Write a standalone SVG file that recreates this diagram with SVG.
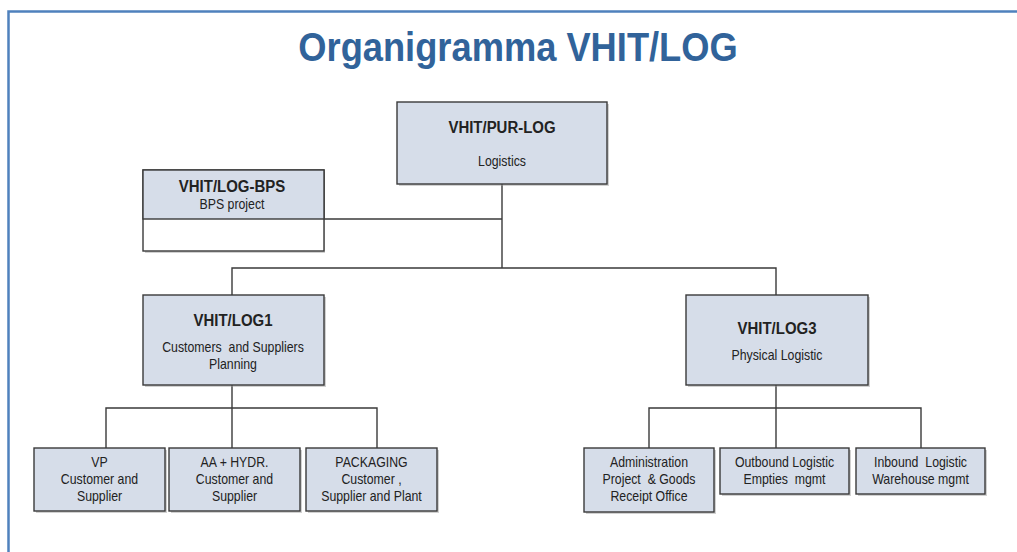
<svg xmlns="http://www.w3.org/2000/svg" width="1017" height="552" viewBox="0 0 1017 552">
  <style>
    .box { fill: #D6DDE9; stroke: #3A3A3A; stroke-width: 1.4; }
    .blank { fill: #FFFFFF; stroke: #3A3A3A; stroke-width: 1.4; }
    .shadow { fill: #9A9A9A; opacity: 0.45; }
    .wire { fill: none; stroke: #3A3A3A; stroke-width: 1.4; }
    text { font-family: "Liberation Sans", Arial, sans-serif; fill: #222222; text-anchor: middle; white-space: pre; }
    .head { font-size: 17px; font-weight: bold; }
    .sub { font-size: 14px; }
    .title { font-size: 41px; font-weight: bold; fill: #31639A; }
  </style>

  <rect x="0" y="0" width="1017" height="552" fill="#FFFFFF"/>

  <!-- page frame -->
  <path d="M8.5 552 V11.5 H1017" fill="none" stroke="#4F81BD" stroke-width="2.5"/>

  <!-- title -->
  <text class="title" transform="matrix(0.885 0 0 1 518 61)">Organigramma VHIT/LOG</text>

  <!-- connectors -->
  <g id="connectors">
    <path class="wire" d="M502 184 V268"/>
    <path class="wire" d="M324 219 H502"/>
    <path class="wire" d="M232 295 V268 H776 V295"/>
    <path class="wire" d="M232 385 V408"/>
    <path class="wire" d="M106 448 V408 H377 V448"/>
    <path class="wire" d="M232 408 V448"/>
    <path class="wire" d="M776 385 V408"/>
    <path class="wire" d="M649 448 V408 H921 V448"/>
    <path class="wire" d="M776 408 V448"/>
  </g>

  <!-- top node -->
  <g id="node-pur-log">
    <rect class="shadow" x="399" y="104" width="210" height="82"/>
    <rect class="box" x="397" y="102" width="210" height="82"/>
    <text class="head" transform="matrix(0.88 0 0 1 502 133)">VHIT/PUR-LOG</text>
    <text class="sub" transform="matrix(0.88 0 0 1 502 166)">Logistics</text>
  </g>

  <!-- staff node -->
  <g id="node-log-bps">
    <rect class="shadow" x="145" y="172" width="180" height="81"/>
    <rect class="blank" x="143" y="170" width="181" height="81"/>
    <rect class="box" x="143" y="170" width="181" height="49"/>
    <text class="head" transform="matrix(0.88 0 0 1 232 192)">VHIT/LOG-BPS</text>
    <text class="sub" transform="matrix(0.88 0 0 1 232 209)">BPS project</text>
  </g>

  <!-- second level -->
  <g id="node-log1">
    <rect class="shadow" x="145" y="297" width="181" height="90"/>
    <rect class="box" x="143" y="295" width="181" height="90"/>
    <text class="head" transform="matrix(0.88 0 0 1 233 326)">VHIT/LOG1</text>
    <text class="sub" transform="matrix(0.88 0 0 1 233 352)">Customers  and Suppliers</text>
    <text class="sub" transform="matrix(0.88 0 0 1 233 369)">Planning</text>
  </g>

  <g id="node-log3">
    <rect class="shadow" x="688" y="297" width="182" height="90"/>
    <rect class="box" x="686" y="295" width="182" height="90"/>
    <text class="head" transform="matrix(0.88 0 0 1 777 334)">VHIT/LOG3</text>
    <text class="sub" transform="matrix(0.88 0 0 1 777 360)">Physical Logistic</text>
  </g>

  <!-- third level, LOG1 -->
  <g id="node-vp">
    <rect class="shadow" x="36" y="450" width="131" height="63"/>
    <rect class="box" x="34" y="448" width="131" height="63"/>
    <text class="sub" transform="matrix(0.88 0 0 1 99.5 467)">VP</text>
    <text class="sub" transform="matrix(0.88 0 0 1 99.5 484)">Customer and</text>
    <text class="sub" transform="matrix(0.88 0 0 1 99.5 501)">Supplier</text>
  </g>

  <g id="node-aa-hydr">
    <rect class="shadow" x="171" y="450" width="131" height="63"/>
    <rect class="box" x="169" y="448" width="131" height="63"/>
    <text class="sub" transform="matrix(0.88 0 0 1 234.5 467)">AA + HYDR.</text>
    <text class="sub" transform="matrix(0.88 0 0 1 234.5 484)">Customer and</text>
    <text class="sub" transform="matrix(0.88 0 0 1 234.5 501)">Supplier</text>
  </g>

  <g id="node-packaging">
    <rect class="shadow" x="308" y="450" width="131" height="63"/>
    <rect class="box" x="306" y="448" width="131" height="63"/>
    <text class="sub" transform="matrix(0.88 0 0 1 371.5 467)">PACKAGING</text>
    <text class="sub" transform="matrix(0.88 0 0 1 371.5 484)">Customer ,</text>
    <text class="sub" transform="matrix(0.88 0 0 1 371.5 501)">Supplier and Plant</text>
  </g>

  <!-- third level, LOG3 -->
  <g id="node-admin">
    <rect class="shadow" x="586" y="450" width="130" height="64"/>
    <rect class="box" x="584" y="448" width="130" height="64"/>
    <text class="sub" transform="matrix(0.88 0 0 1 649 467)">Administration</text>
    <text class="sub" transform="matrix(0.88 0 0 1 649 484)">Project  &amp; Goods</text>
    <text class="sub" transform="matrix(0.88 0 0 1 649 501)">Receipt Office</text>
  </g>

  <g id="node-outbound">
    <rect class="shadow" x="722" y="450" width="129" height="46"/>
    <rect class="box" x="720" y="448" width="129" height="46"/>
    <text class="sub" transform="matrix(0.88 0 0 1 784.5 467)">Outbound Logistic</text>
    <text class="sub" transform="matrix(0.88 0 0 1 784.5 484)">Empties  mgmt</text>
  </g>

  <g id="node-inbound">
    <rect class="shadow" x="858" y="450" width="129" height="46"/>
    <rect class="box" x="856" y="448" width="129" height="46"/>
    <text class="sub" transform="matrix(0.88 0 0 1 920.5 467)">Inbound  Logistic</text>
    <text class="sub" transform="matrix(0.88 0 0 1 920.5 484)">Warehouse mgmt</text>
  </g>
</svg>
